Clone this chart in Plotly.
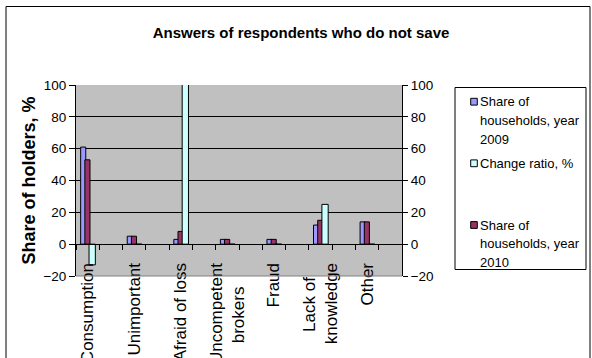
import plotly.graph_objects as go

# ---------------- data ----------------
categories = ["Consumption", "Unimportant", "Afraid of loss",
              "Uncompetent<br>brokers", "Fraud", "Lack of<br>knowledge", "Other"]
share_2009 = [61, 5, 3, 3, 3, 12, 14]
share_2010 = [53, 5, 8, 3, 3, 15, 14]
change_ratio = [-13, 0, 167, 0, 0, 25, 0]
y_ticks = [-20, 0, 20, 40, 60, 80, 100]
series_names = ["Share of households, year 2009", "Change ratio, %",
                "Share of households, year 2010"]
legend_lines = [["Share of", "households, year", "2009"],
                ["Change ratio, %"],
                ["Share of", "households, year", "2010"]]

# ---------------- style / geometry ----------------
W, H = 592, 358
L, R, T, B = 76, 402, 85, 276          # plot area in pixels
PW, PH = R - L, B - T

def px_x(px):
    return (px - L) / PW

def px_y(py):
    return (B - py) / PH

def centre_lines(label):
    """Rotated multi-line tick labels are end-anchored; pad short lines so they look centred."""
    parts = label.split("<br>")
    if len(parts) == 1:
        return label
    longest = max(len(p) for p in parts)
    return "<br>".join(p + "&nbsp;" * round(1.3 * (longest - len(p))) for p in parts)

C2009 = "#9999FF"
C2010 = "#993366"
CCHG = "#CCFFFF"
SANS = "Liberation Sans, Arial, sans-serif"

xpos = [2 * i for i in range(len(categories))]
ticktext = [centre_lines(c) for c in categories]

fig = go.Figure()
fig.add_trace(go.Bar(x=xpos, y=share_2009, name=series_names[0], width=0.22, offset=-0.30,
                     marker=dict(color=C2009, line=dict(color="black", width=1)), yaxis="y"))
fig.add_trace(go.Bar(x=xpos, y=share_2010, name=series_names[2], width=0.22, offset=-0.12,
                     marker=dict(color=C2010, line=dict(color="black", width=1)), yaxis="y"))
fig.add_trace(go.Bar(x=xpos, y=change_ratio, name=series_names[1], width=0.27, offset=0.06,
                     marker=dict(color=CCHG, line=dict(color="black", width=1)), yaxis="y2"))

axis_font = dict(family=SANS, size=13.5, color="black")

fig.update_layout(
    template="none",
    width=W, height=H,
    margin=dict(l=L, r=W - R, t=T, b=H - B, pad=0),
    paper_bgcolor="white",
    plot_bgcolor="#C0C0C0",
    showlegend=False,
    barmode="overlay",
    font=dict(family=SANS, color="black"),
    title=dict(text="Answers of respondents who do not save",
               font=dict(family=SANS, size=15, weight="bold", color="black"),
               x=301 / W, xref="container", xanchor="center",
               y=1 - 33 / H, yref="container", yanchor="middle"),
    xaxis=dict(range=[-0.5, len(categories) * 2 - 0.5], anchor="free", position=20 / 120,
               showline=True, linecolor="black", linewidth=1,
               tickmode="array", tickvals=xpos, ticktext=ticktext, tickangle=-90,
               ticks="outside", ticklen=5, tickcolor="rgba(0,0,0,0)",
               ticklabelstandoff=6,
               tickfont=dict(family=SANS, size=17, color="black"),
               showgrid=False, zeroline=False, automargin=False,
               minor=dict(tickmode="linear", tick0=-0.5, dtick=1, ticks="outside",
                          ticklen=5, tickcolor="black", tickwidth=1, showgrid=False)),
    yaxis=dict(range=[-20, 100], tickmode="array", tickvals=y_ticks,
               showline=True, linecolor="black", linewidth=1,
               ticks="outside", ticklen=6, tickcolor="black",
               showgrid=True, gridcolor="black", gridwidth=1, zeroline=False,
               tickfont=axis_font, automargin=False,
               title=dict(text="Share of holders, %",
                          font=dict(family=SANS, size=18, weight="bold", color="black"),
                          standoff=3)),
    yaxis2=dict(range=[-20, 100], overlaying="y", side="right", tickmode="array",
                tickvals=y_ticks, showline=True, linecolor="black", linewidth=1,
                ticks="outside", ticklen=5, tickcolor="black",
                showgrid=False, zeroline=False, tickfont=axis_font, automargin=False),
)

shapes = []
# outer chart border
shapes.append(dict(type="rect", xref="paper", yref="paper",
                   x0=px_x(6), x1=px_x(590), y0=px_y(366), y1=px_y(6.5),
                   line=dict(color="black", width=1), fillcolor="rgba(0,0,0,0)", layer="above"))
# bottom plot-area border (grey)
shapes.append(dict(type="line", xref="paper", yref="paper", x0=0, x1=1, y0=0, y1=0,
                   line=dict(color="#808080", width=1), layer="above"))
# legend box
shapes.append(dict(type="rect", xref="paper", yref="paper",
                   x0=px_x(455), x1=px_x(586), y0=px_y(269.5), y1=px_y(87.5),
                   line=dict(color="black", width=1), fillcolor="white", layer="above"))

annotations = []
legend_colors = [C2009, CCHG, C2010]
entry_lines_y = [[101.7, 120, 139.3], [163.3], [225, 243.3, 262.7]]
for lines, ys, col in zip(legend_lines, entry_lines_y, legend_colors):
    shapes.append(dict(type="rect", xref="paper", yref="paper",
                       x0=px_x(470.7), x1=px_x(477.3), y0=px_y(ys[0] + 3.4), y1=px_y(ys[0] - 3.4),
                       line=dict(color="black", width=1), fillcolor=col, layer="above"))
    for txt, yy in zip(lines, ys):
        annotations.append(dict(text=txt, xref="paper", yref="paper",
                                x=px_x(478), y=px_y(yy), xanchor="left", yanchor="middle",
                                showarrow=False, font=dict(family=SANS, size=13, color="black")))

fig.update_layout(shapes=shapes, annotations=annotations)

fig.write_html("out.html")
